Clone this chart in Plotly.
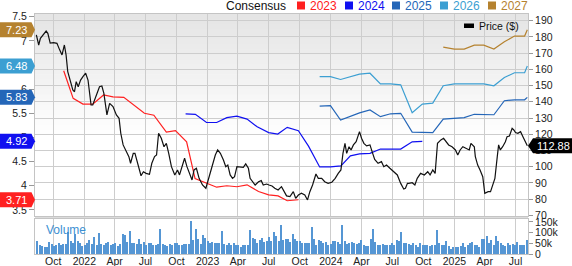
import plotly.graph_objects as go
import pandas as pd

# ---------------- data ----------------
price_dates = [
    "2021-08-12","2021-08-19","2021-08-24","2021-09-01","2021-09-10","2021-09-15","2021-09-22","2021-10-02","2021-10-12","2021-10-20","2021-10-27","2021-11-03","2021-11-08","2021-11-13","2021-11-20","2021-11-28","2021-12-03","2021-12-08","2021-12-14","2021-12-21","2021-12-28",
    "2022-01-05","2022-01-12","2022-01-17","2022-01-21","2022-01-26","2022-02-05","2022-02-15","2022-02-22","2022-02-28","2022-03-09","2022-03-17","2022-03-27",
    "2022-04-06","2022-04-14","2022-04-19","2022-04-26","2022-05-06","2022-05-13","2022-05-18","2022-05-26","2022-05-31","2022-06-07","2022-06-13","2022-06-18","2022-06-25",
    "2022-07-03","2022-07-13","2022-07-20","2022-07-28","2022-08-03","2022-08-09","2022-08-17","2022-08-25","2022-09-01","2022-09-08","2022-09-16","2022-09-26",
    "2022-10-04","2022-10-10","2022-10-17","2022-10-25","2022-11-01","2022-11-09","2022-11-16","2022-11-22","2022-11-29","2022-12-07","2022-12-17","2022-12-27",
    "2023-01-04","2023-01-14","2023-01-24","2023-01-31","2023-02-08","2023-02-17","2023-02-24","2023-03-02","2023-03-09","2023-03-16","2023-03-22","2023-03-29",
    "2023-04-07","2023-04-17","2023-04-24","2023-05-02","2023-05-07","2023-05-15","2023-05-22","2023-06-01","2023-06-09","2023-06-15","2023-06-25",
    "2023-07-02","2023-07-11","2023-07-19","2023-07-29","2023-08-08","2023-08-16","2023-08-23","2023-09-02","2023-09-12","2023-09-19","2023-09-27",
    "2023-10-06","2023-10-16","2023-10-24","2023-10-31","2023-11-08","2023-11-18","2023-11-25","2023-12-05","2023-12-14","2023-12-24",
    "2024-01-04","2024-01-14","2024-01-23","2024-01-31","2024-02-06","2024-02-12","2024-02-17","2024-02-24","2024-03-01","2024-03-08","2024-03-16","2024-03-26",
    "2024-04-01","2024-04-08","2024-04-16","2024-04-26","2024-05-04","2024-05-10","2024-05-20","2024-05-30","2024-06-06","2024-06-14","2024-06-24",
    "2024-07-06","2024-07-16","2024-07-26","2024-08-04","2024-08-09","2024-08-15","2024-08-19","2024-08-29","2024-09-06","2024-09-13","2024-09-23",
    "2024-10-04","2024-10-14","2024-10-21","2024-10-29","2024-11-05","2024-11-12","2024-11-22","2024-11-30","2024-12-07","2024-12-15","2024-12-25",
    "2025-01-04","2025-01-11","2025-01-18","2025-01-26","2025-02-04","2025-02-14","2025-02-19","2025-03-01","2025-03-04","2025-03-11","2025-03-18","2025-03-26",
    "2025-04-01","2025-04-11","2025-04-18","2025-04-25","2025-05-01","2025-05-08","2025-05-12","2025-05-17","2025-05-24","2025-06-01","2025-06-06","2025-06-13","2025-06-21","2025-06-26",
    "2025-07-01","2025-07-08","2025-07-16","2025-07-23","2025-07-29","2025-08-05",
]
price_vals = [
    181.2,175,179.1,181.2,183.6,182.2,176.1,176.4,176,172,168.9,175,168.9,158.6,153.4,147.3,146.2,152.4,149.3,153.4,155.5,
    157.6,153.4,144.2,138,138,144.2,149.3,149.7,145.2,131.9,139,137,
    131.9,129.8,120.6,113.4,109.2,106.2,102.1,108.2,108.2,102.1,98,94.4,96.9,
    95.9,95.3,102.1,106.2,107.2,120.6,117.5,112.3,114.4,108.2,100,94.9,
    98,94.9,100,105.2,100,95.9,91.8,98,99,92.8,88.7,86.7,
    92.8,100,107.2,110.3,108.2,104.1,100,101,94.9,92.8,93.8,100,
    100,99.6,101.7,99,92.8,90.7,88.7,90.7,91.4,88.7,89.3,
    88.7,88.1,86.7,85.6,87.7,84.6,82,81.5,84.6,80.5,82.5,
    83.6,82.5,79.5,84.6,88.7,95.5,92.8,92.8,90.7,89.7,
    90.4,92.8,95.9,98,108.2,114.4,108.2,112.3,110.3,113.4,115.4,121.6,
    117.5,114.4,112.8,113.4,108.2,104.5,102.1,103.1,100,101,99,
    96.9,94.9,89.7,86.2,86.7,89.7,89.7,90.1,88.7,92.8,95.9,
    94.9,96.9,94.9,98,95.9,114.4,116.5,117.5,115.4,113.4,112.3,
    110.3,107.2,110.3,112.3,111.3,110.3,114.4,112.3,106.2,101,98,93.8,
    83.6,84.6,84.6,89.7,92.8,106.2,113.4,110.3,112.3,115.4,118.5,118.9,123.6,122.6,
    121,120.6,121.6,118.5,115.4,112.88,
]

c2023_dates = ["2021-11-01","2021-11-29","2021-12-28","2022-01-26","2022-02-27","2022-03-27","2022-04-28","2022-05-26","2022-06-28","2022-07-26","2022-09-01","2022-09-28","2022-10-31","2022-11-25","2022-12-25","2023-01-28","2023-02-27","2023-03-29","2023-04-28","2023-06-01","2023-07-01","2023-07-29","2023-08-25","2023-09-27"]
c2023_vals = [6.38,5.81,5.69,5.69,5.88,5.84,5.83,5.67,5.50,5.46,5.11,5.14,4.91,4.15,4.06,3.97,4.00,3.98,4.02,3.88,3.81,3.79,3.69,3.71]

c2024_dates = ["2022-10-28","2022-11-26","2022-12-29","2023-01-28","2023-02-27","2023-03-29","2023-04-28","2023-05-28","2023-07-01","2023-07-28","2023-08-25","2023-09-27","2023-10-27","2023-11-29","2023-12-31","2024-01-31","2024-02-28","2024-03-26","2024-04-26","2024-05-27","2024-06-26","2024-07-26","2024-08-29","2024-09-28"]
c2024_vals = [5.49,5.48,5.31,5.31,5.41,5.44,5.38,5.22,5.10,5.07,5.21,5.14,4.82,4.39,4.39,4.41,4.62,4.66,4.67,4.76,4.76,4.76,4.91,4.92]

c2025_dates = ["2023-11-29","2023-12-31","2024-01-30","2024-02-28","2024-03-26","2024-04-26","2024-05-27","2024-06-26","2024-07-26","2024-08-29","2024-09-28","2024-10-29","2024-11-29","2025-01-01","2025-01-30","2025-03-01","2025-03-29","2025-04-28","2025-05-29","2025-06-28","2025-07-28","2025-08-05"]
c2025_vals = [5.65,5.66,5.36,5.44,5.51,5.57,5.43,5.49,5.50,5.11,5.11,5.10,5.38,5.40,5.41,5.48,5.48,5.47,5.76,5.78,5.78,5.83]

c2026_dates = c2025_dates
c2026_vals = [6.26,6.26,6.20,6.26,6.31,6.33,6.11,6.11,6.09,5.51,5.69,5.71,6.07,6.11,6.11,6.11,6.11,6.07,6.24,6.34,6.34,6.48]

c2027_dates = ["2024-11-29","2025-01-01","2025-01-30","2025-03-01","2025-03-29","2025-04-28","2025-05-29","2025-06-28","2025-07-28","2025-08-05"]
c2027_vals = [6.87,6.83,6.83,6.91,6.91,6.83,6.98,7.10,7.10,7.23]

volume_k = [
    59,41,36,34,34,56,49,36,44,53,41,45,49,103,59,53,94,59,53,38,44,53,66,49,81,44,100,49,44,50,56,41,47,50,38,49,94,88,56,
    110,53,53,47,72,47,56,44,53,53,44,44,47,116,47,41,39,49,41,52,53,44,44,47,45,47,153,66,119,72,49,88,75,59,53,56,53,50,53,
    110,49,44,50,44,53,41,41,34,41,41,41,111,75,69,53,64,75,56,59,78,59,103,85,59,135,
    64,69,69,56,94,69,59,59,53,53,53,50,127,72,44,66,59,53,56,41,47,59,63,56,47,135,59,47,50,56,
    53,47,53,66,44,38,38,72,116,56,44,44,47,41,41,44,53,44,66,59,103,53,53,47,41,53,44,34,50,
    44,41,41,38,41,41,111,53,44,41,59,38,22,31,34,34,38,53,34,41,50,56,44,41,34,69,72,85,53,66,
    44,85,59,50,41,38,53,44,47,41,56,44,41,41,64,
]
volume_last_week = "2025-08-04"

x_tickvals = ["2021-10-01","2022-01-01","2022-04-01","2022-07-01","2022-10-01","2023-01-01","2023-04-01","2023-07-01",
              "2023-10-01","2024-01-01","2024-04-01","2024-07-01","2024-10-01","2025-01-01","2025-04-01","2025-07-01"]
x_ticktext = ["Oct","2022","Apr","Jul","Oct","2023","Apr","Jul","Oct","2024","Apr","Jul","Oct","2025","Apr","Jul"]
price_ticks = [70,80,90,100,110,120,130,140,150,160,170,180,190]
eps_ticks = [3.5,4,4.5,5,5.5,6,6.5,7,7.5]
eps_ticktext = ["3.5","4","4.5","5","5.5","6","6.5","7","7.5"]
vol_ticks = [0,50,100,150]
vol_ticktext = ["0","50k","100k","150k"]

series = [
    ("2023", c2023_dates, c2023_vals, "#ff2020"),
    ("2024", c2024_dates, c2024_vals, "#1010f0"),
    ("2025", c2025_dates, c2025_vals, "#2466b8"),
    ("2026", c2026_dates, c2026_vals, "#3c9fd2"),
    ("2027", c2027_dates, c2027_vals, "#b5822f"),
]

# ---------------- layout geometry ----------------
W, H = 572, 266
L, R, T, B = 35, 44, 14, 12
PH = H - T - B
PW = W - L - R


def fy(y):
    return (H - B - y) / PH


def fx(x):
    return (x - L) / PW


FONT = "Liberation Sans, Arial, sans-serif"
GRID = "#cdcdcd"
AX = "#c4c4c4"

fig = go.Figure()

for name, d, v, col in series:
    fig.add_trace(go.Scatter(x=d, y=v, mode="lines", line=dict(color=col, width=1.2),
                             xaxis="x", yaxis="y", name=name, showlegend=False))

fig.add_trace(go.Scatter(x=price_dates, y=price_vals, mode="lines",
                         line=dict(color="#111111", width=1.2), xaxis="x", yaxis="y2",
                         name="Price ($)", showlegend=False))

vol_dates = pd.date_range(end=volume_last_week, periods=len(volume_k), freq="7D")
fig.add_trace(go.Bar(x=vol_dates, y=volume_k, xaxis="x2", yaxis="y3",
                     marker=dict(color="#5596d4", line=dict(width=0)),
                     width=4.6 * 86400000, showlegend=False))

xrange = ["2021-08-08", "2025-08-07"]

shapes = []
# gradient background of main panel
N = 40
for i in range(N):
    y0 = i / N
    y1 = (i + 1) / N
    t = 1 - (y0 + y1) / 2
    c = int(round(228 + 27 * min(1.0, t / 0.6)))
    shapes.append(dict(type="rect", xref="x domain", yref="y domain", x0=0, x1=1, y0=y0, y1=y1 + 0.002,
                       fillcolor=f"rgb({c},{c},{c})", line=dict(width=0), layer="below"))
# separator band between price and volume panels
shapes.append(dict(type="rect", xref="paper", yref="paper", x0=0, x1=1, y0=fy(219), y1=fy(216),
                   fillcolor="#dcdcdc", line=dict(width=0), layer="below"))

annotations = []
# consensus end labels on the left
for name, d, v, col in series:
    last = v[-1]
    shapes.append(dict(type="path", xref="paper", yref="y", xsizemode="pixel", ysizemode="pixel",
                       xanchor=0, yanchor=last,
                       path="M -36 -7.5 L -3.5 -7.5 L 0 0 L -3.5 7.5 L -36 7.5 Z",
                       fillcolor=col, line=dict(width=0), layer="above"))
    annotations.append(dict(xref="paper", yref="y", x=0, y=last, xshift=-19, xanchor="center",
                            yanchor="middle", text=f"{last:.2f}", showarrow=False,
                            font=dict(family=FONT, size=11, color="white")))

# last price label on the right
last_price = price_vals[-1]
shapes.append(dict(type="path", xref="paper", yref="y2", xsizemode="pixel", ysizemode="pixel",
                   xanchor=1, yanchor=last_price,
                   path="M 0 0 L 5 -7.5 L 46 -7.5 L 46 7.5 L 5 7.5 Z",
                   fillcolor="#000000", line=dict(width=0), layer="above"))
annotations.append(dict(xref="paper", yref="y2", x=1, y=last_price, xshift=25, xanchor="center",
                        yanchor="middle", text=f"{last_price:.2f}", showarrow=False,
                        font=dict(family=FONT, size=11, color="white")))

# top legend
annotations.append(dict(xref="paper", yref="paper", x=fx(224), y=fy(6), xanchor="left", yanchor="middle",
                        text="Consensus", showarrow=False, font=dict(family=FONT, size=12, color="#111")))
leg_x = [297, 345, 392, 440, 488]
for (name, d, v, col), lx in zip(series, leg_x):
    shapes.append(dict(type="rect", xref="paper", yref="paper", x0=fx(lx), x1=fx(lx + 8),
                       y0=fy(9.5), y1=fy(1.5), fillcolor=col, line=dict(width=0)))
    annotations.append(dict(xref="paper", yref="paper", x=fx(lx + 10.5), y=fy(6), xanchor="left",
                            yanchor="middle", text=name, showarrow=False,
                            font=dict(family=FONT, size=12, color=col)))

# price legend inside plot
shapes.append(dict(type="rect", xref="paper", yref="paper", x0=fx(464), x1=fx(474),
                   y0=fy(28), y1=fy(23.5), fillcolor="#000", line=dict(width=0)))
annotations.append(dict(xref="paper", yref="paper", x=fx(477), y=fy(25.8), xanchor="left",
                        yanchor="middle", text="Price ($)", showarrow=False,
                        font=dict(family=FONT, size=10.5, color="#111")))

# volume label
annotations.append(dict(xref="paper", yref="paper", x=fx(44), y=fy(229.5), xanchor="left",
                        yanchor="middle", text="Volume", showarrow=False,
                        font=dict(family=FONT, size=12, color="#3c8fd2")))

tickfont = dict(family=FONT, size=10.5, color="#222")

fig.update_layout(
    width=W, height=H,
    margin=dict(l=L, r=R, t=T, b=B, pad=0, autoexpand=False),
    paper_bgcolor="white", plot_bgcolor="rgba(0,0,0,0)",
    showlegend=False, hovermode=False,
    font=dict(family=FONT, size=10.5, color="#222"),
    xaxis=dict(type="date", range=xrange, domain=[0, 1], anchor="y", automargin=False,
               tickvals=x_tickvals, showticklabels=False, ticks="",
               showgrid=True, gridcolor=GRID, gridwidth=1,
               showline=True, linecolor=AX, linewidth=1, mirror=True, zeroline=False),
    xaxis2=dict(type="date", range=xrange, domain=[0, 1], anchor="y3", matches="x", automargin=False,
                tickvals=x_tickvals, ticktext=x_ticktext, ticks="", tickfont=tickfont,
                ticklabelstandoff=-3,
                showgrid=True, gridcolor=GRID, gridwidth=1,
                showline=True, linecolor=AX, linewidth=1, mirror=True, zeroline=False),
    yaxis=dict(domain=[fy(216), 1], range=[3.374, 7.556], side="left", anchor="x", automargin=False,
               tickvals=eps_ticks, ticktext=eps_ticktext, tickfont=tickfont,
               ticks="outside", ticklen=5, tickcolor="#999", showgrid=False,
               showline=True, linecolor=AX, zeroline=False),
    yaxis2=dict(overlaying="y", side="right", anchor="x", range=[69.6, 194.1], automargin=False,
                tickvals=price_ticks, tickfont=tickfont,
                ticks="outside", ticklen=4, tickcolor="#999",
                showgrid=True, gridcolor=GRID, gridwidth=1,
                showline=True, linecolor=AX, zeroline=False),
    yaxis3=dict(domain=[0, fy(219)], range=[0, 164], side="right", anchor="x2", automargin=False,
                tickvals=vol_ticks, ticktext=vol_ticktext, tickfont=tickfont,
                ticks="outside", ticklen=4, tickcolor="#999", showgrid=False,
                showline=True, linecolor=AX, mirror=True, zeroline=False),
    bargap=0,
    shapes=shapes,
    annotations=annotations,
)

fig.write_html("out.html")
